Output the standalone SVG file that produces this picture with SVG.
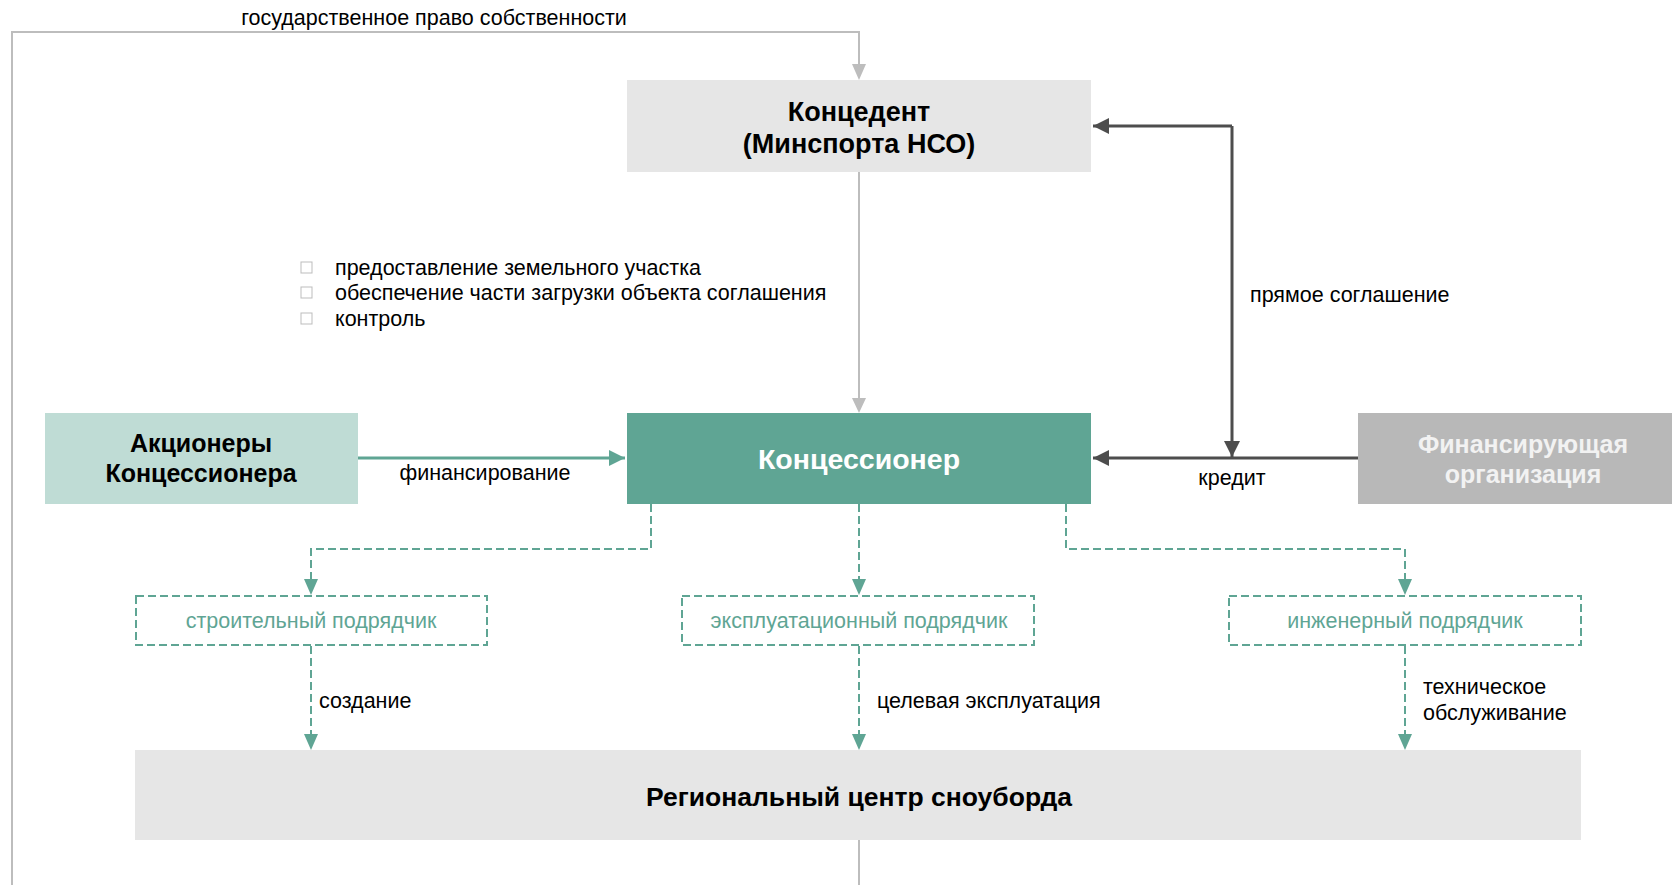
<svg xmlns="http://www.w3.org/2000/svg" width="1672" height="885" viewBox="0 0 1672 885">
<style>
text{font-family:"Liberation Sans",Arial,sans-serif;}
.t{font-size:21.5px;fill:#000;}
.b{font-weight:bold;font-size:25px;fill:#000;text-anchor:middle;}
.g{stroke:#bdbdbd;stroke-width:2;fill:none;}
.d{stroke:#4d4d4d;stroke-width:3;fill:none;}
.gr{stroke:#5fa594;stroke-width:3;fill:none;}
.ds{stroke:#5fa594;stroke-width:2;fill:none;stroke-dasharray:8,4;}
.ct{font-size:21.5px;fill:#5fa594;text-anchor:middle;}
</style>
<defs>
<marker id="ad" viewBox="0 0 10 10" refX="10" refY="5" markerWidth="16" markerHeight="16" orient="auto" markerUnits="userSpaceOnUse"><path d="M0,0L10,5L0,10z" fill="#4d4d4d"/></marker>
<marker id="agr" viewBox="0 0 10 10" refX="10" refY="5" markerWidth="16" markerHeight="16" orient="auto" markerUnits="userSpaceOnUse"><path d="M0,0L10,5L0,10z" fill="#5fa594"/></marker>
</defs>
<rect width="1672" height="885" fill="#fff"/>
<g id="connectors">
<path class="g" d="M12,885V32H859V66"/>
<path d="M852,64L866,64L859,80z" fill="#bdbdbd"/>
<path class="g" d="M859,172V398"/>
<path d="M852,398L866,398L859,413z" fill="#bdbdbd"/>
<path class="g" d="M859,840V885"/>
<path class="d" d="M1232,126H1093" marker-end="url(#ad)"/>
<path class="d" d="M1232,126V457" marker-end="url(#ad)"/>
<path class="d" d="M1358,458H1093" marker-end="url(#ad)"/>
<path class="gr" d="M358,458H625" marker-end="url(#agr)"/>
<path class="ds" d="M651,504V549H311V580"/>
<path d="M304,579L318,579L311,595z" fill="#5fa594"/>
<path class="ds" d="M859,504V580"/>
<path d="M852,579L866,579L859,595z" fill="#5fa594"/>
<path class="ds" d="M1066,504V549H1405V580"/>
<path d="M1398,579L1412,579L1405,595z" fill="#5fa594"/>
<path class="ds" d="M311,646V735"/>
<path d="M304,734L318,734L311,750z" fill="#5fa594"/>
<path class="ds" d="M859,646V735"/>
<path d="M852,734L866,734L859,750z" fill="#5fa594"/>
<path class="ds" d="M1405,646V735"/>
<path d="M1398,734L1412,734L1405,750z" fill="#5fa594"/>
<text class="t" x="434" y="25" text-anchor="middle">государственное право собственности</text>
<text class="t" x="1250" y="302">прямое соглашение</text>
<text class="t" x="1232" y="485" text-anchor="middle">кредит</text>
<text class="t" x="485" y="480" text-anchor="middle">финансирование</text>
<text class="t" x="319" y="708">создание</text>
<text class="t" x="877" y="708">целевая эксплуатация</text>
<text class="t" x="1423" y="694">техническое</text>
<text class="t" x="1423" y="720">обслуживание</text>
</g>
<g id="notes">
<rect x="301" y="262" width="11" height="11" fill="none" stroke="#bdbdbd" stroke-width="1"/>
<rect x="301" y="287" width="11" height="11" fill="none" stroke="#bdbdbd" stroke-width="1"/>
<rect x="301" y="313" width="11" height="11" fill="none" stroke="#bdbdbd" stroke-width="1"/>
<text class="t" x="335" y="275">предоставление земельного участка</text>
<text class="t" x="335" y="300">обеспечение части загрузки объекта соглашения</text>
<text class="t" x="335" y="326">контроль</text>
</g>
<g id="koncedent">
<rect x="627" y="80" width="464" height="92" fill="#e6e6e6"/>
<text class="b" x="859" y="121" style="font-size:27px">Концедент</text>
<text class="b" x="859" y="153" style="font-size:27px">(Минспорта НСО)</text>
</g>
<g id="koncessioner">
<rect x="627" y="413" width="464" height="91" fill="#5fa594"/>
<text class="b" x="859" y="469" style="fill:#fff;font-size:28.5px">Концессионер</text>
</g>
<g id="akcionery">
<rect x="45" y="413" width="313" height="91" fill="#bfdcd5"/>
<text class="b" x="201" y="452">Акционеры</text>
<text class="b" x="201" y="482">Концессионера</text>
</g>
<g id="finorg">
<rect x="1358" y="413" width="314" height="91" fill="#b8b8b8"/>
<text class="b" x="1523" y="453" style="fill:#f2f2f2">Финансирующая</text>
<text class="b" x="1523" y="483" style="fill:#f2f2f2">организация</text>
</g>
<g id="stroit">
<rect x="136" y="596" width="351" height="49" class="ds"/>
<text class="ct" x="311" y="628">строительный подрядчик</text>
</g>
<g id="expl">
<rect x="682" y="596" width="352" height="49" class="ds"/>
<text class="ct" x="859" y="628">эксплуатационный подрядчик</text>
</g>
<g id="inzh">
<rect x="1229" y="596" width="352" height="49" class="ds"/>
<text class="ct" x="1405" y="628">инженерный подрядчик</text>
</g>
<g id="region">
<rect x="135" y="750" width="1446" height="90" fill="#e6e6e6"/>
<text class="b" x="859" y="806" style="font-size:26.5px">Региональный центр сноуборда</text>
</g>
</svg>
